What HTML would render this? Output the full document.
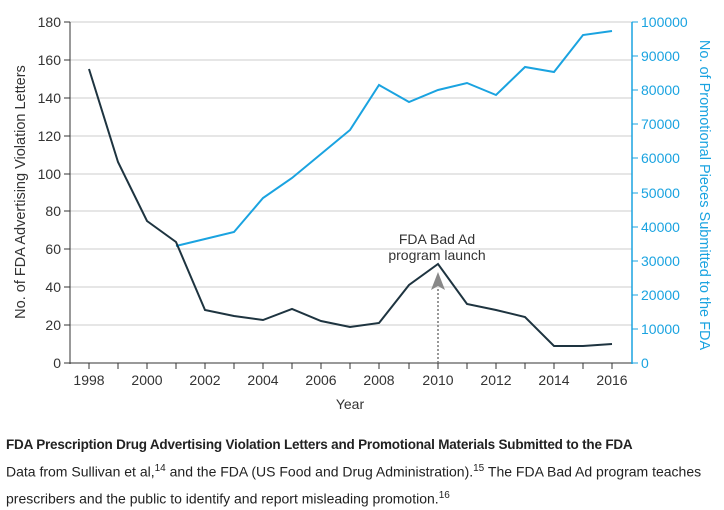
<!DOCTYPE html>
<html><head><meta charset="utf-8"><style>
body{margin:0;background:#fff;width:724px;height:507px;overflow:hidden;font-family:"Liberation Sans",sans-serif}
.cap{position:absolute;left:6px;color:#222}
</style></head><body>
<svg width="724" height="410" style="position:absolute;left:0;top:0" font-family="Liberation Sans, sans-serif">
<g stroke="#ddd" stroke-width="1.5">
<line x1="70" x2="632" y1="22" y2="22"/><line x1="70" x2="632" y1="60" y2="60"/><line x1="70" x2="632" y1="98" y2="98"/><line x1="70" x2="632" y1="136" y2="136"/><line x1="70" x2="632" y1="174" y2="174"/><line x1="70" x2="632" y1="211" y2="211"/><line x1="70" x2="632" y1="249" y2="249"/><line x1="70" x2="632" y1="287" y2="287"/><line x1="70" x2="632" y1="325" y2="325"/>
</g>
<line x1="70" y1="22" x2="70" y2="364" stroke="#333"/>
<line x1="70" y1="363" x2="632" y2="363" stroke="#333"/>
<line x1="632" y1="22" x2="632" y2="364" stroke="#1aa3e0" stroke-width="1.5"/>
<g stroke="#333">
<line x1="64" x2="70" y1="22" y2="22"/><line x1="64" x2="70" y1="60" y2="60"/><line x1="64" x2="70" y1="98" y2="98"/><line x1="64" x2="70" y1="136" y2="136"/><line x1="64" x2="70" y1="174" y2="174"/><line x1="64" x2="70" y1="211" y2="211"/><line x1="64" x2="70" y1="249" y2="249"/><line x1="64" x2="70" y1="287" y2="287"/><line x1="64" x2="70" y1="325" y2="325"/><line x1="64" x2="70" y1="363" y2="363"/>
</g>
<g stroke="#1aa3e0">
<line x1="632" x2="638" y1="22" y2="22"/><line x1="632" x2="638" y1="56" y2="56"/><line x1="632" x2="638" y1="90" y2="90"/><line x1="632" x2="638" y1="124" y2="124"/><line x1="632" x2="638" y1="158" y2="158"/><line x1="632" x2="638" y1="193" y2="193"/><line x1="632" x2="638" y1="227" y2="227"/><line x1="632" x2="638" y1="261" y2="261"/><line x1="632" x2="638" y1="295" y2="295"/><line x1="632" x2="638" y1="329" y2="329"/><line x1="632" x2="638" y1="363" y2="363"/>
</g>
<g font-size="14" fill="#333" text-anchor="end">
<text x="61" y="27">180</text><text x="61" y="65">160</text><text x="61" y="103">140</text><text x="61" y="141">120</text><text x="61" y="179">100</text><text x="61" y="216">80</text><text x="61" y="254">60</text><text x="61" y="292">40</text><text x="61" y="330">20</text><text x="61" y="368">0</text>
</g>
<g font-size="14" fill="#1aa3e0">
<text x="641" y="27">100000</text><text x="641" y="61">90000</text><text x="641" y="95">80000</text><text x="641" y="129">70000</text><text x="641" y="163">60000</text><text x="641" y="198">50000</text><text x="641" y="232">40000</text><text x="641" y="266">30000</text><text x="641" y="300">20000</text><text x="641" y="334">10000</text><text x="641" y="368">0</text>
</g>
<g font-size="14" fill="#333" text-anchor="middle">
<text x="89" y="385">1998</text><text x="147" y="385">2000</text><text x="205" y="385">2002</text><text x="263" y="385">2004</text><text x="321" y="385">2006</text><text x="379" y="385">2008</text><text x="438" y="385">2010</text><text x="496" y="385">2012</text><text x="554" y="385">2014</text><text x="612" y="385">2016</text>
<text x="350" y="409">Year</text>
<text x="437" y="244">FDA Bad Ad</text><text x="437" y="260">program launch</text>
</g>
<g stroke="#333">
<line x1="89" x2="89" y1="363" y2="369"/><line x1="118" x2="118" y1="363" y2="369"/><line x1="147" x2="147" y1="363" y2="369"/><line x1="176" x2="176" y1="363" y2="369"/><line x1="205" x2="205" y1="363" y2="369"/><line x1="234" x2="234" y1="363" y2="369"/><line x1="263" x2="263" y1="363" y2="369"/><line x1="292" x2="292" y1="363" y2="369"/><line x1="321" x2="321" y1="363" y2="369"/><line x1="350" x2="350" y1="363" y2="369"/><line x1="379" x2="379" y1="363" y2="369"/><line x1="409" x2="409" y1="363" y2="369"/><line x1="438" x2="438" y1="363" y2="369"/><line x1="467" x2="467" y1="363" y2="369"/><line x1="496" x2="496" y1="363" y2="369"/><line x1="525" x2="525" y1="363" y2="369"/><line x1="554" x2="554" y1="363" y2="369"/><line x1="583" x2="583" y1="363" y2="369"/><line x1="612" x2="612" y1="363" y2="369"/>
</g>
<text transform="translate(25,192) rotate(-90)" font-size="14.5" fill="#333" text-anchor="middle">No. of FDA Advertising Violation Letters</text>
<text transform="translate(700,195) rotate(90)" font-size="14.5" fill="#1aa3e0" text-anchor="middle">No. of Promotional Pieces Submitted to the FDA</text>
<line x1="438" y1="363" x2="438" y2="288" stroke="#777" stroke-width="1.5" stroke-dasharray="2,2"/>
<polygon points="438,272 431,290 438,286 445,290" fill="#888"/>
<polyline fill="none" stroke="#1aa3e0" stroke-width="2" points="176,246 205,239 234,232 263,198 292,178 321,154 350,130 379,85 409,102 438,90 467,83 496,95 525,67 554,72 583,35 612,31"/>
<polyline fill="none" stroke="#1e3440" stroke-width="2" points="89,69 118,162 147,221 176,242 205,310 234,316 263,320 292,309 321,321 350,327 379,323 409,285 438,264 467,304 496,310 525,317 554,346 583,346 612,344"/>
</svg>
<div class="cap" style="top:437px;font-size:13.5px;font-weight:bold;letter-spacing:-0.2px">FDA Prescription Drug Advertising Violation Letters and Promotional Materials Submitted to the FDA</div>
<div class="cap" style="top:457px;font-size:14px;line-height:24px;width:712px">Data from Sullivan et al,<sup style="font-size:10px">14</sup> and the FDA (US Food and Drug Administration).<sup style="font-size:10px">15</sup> The FDA Bad Ad program teaches prescribers and the public to identify and report misleading promotion.<sup style="font-size:10px">16</sup></div>
</body></html>
